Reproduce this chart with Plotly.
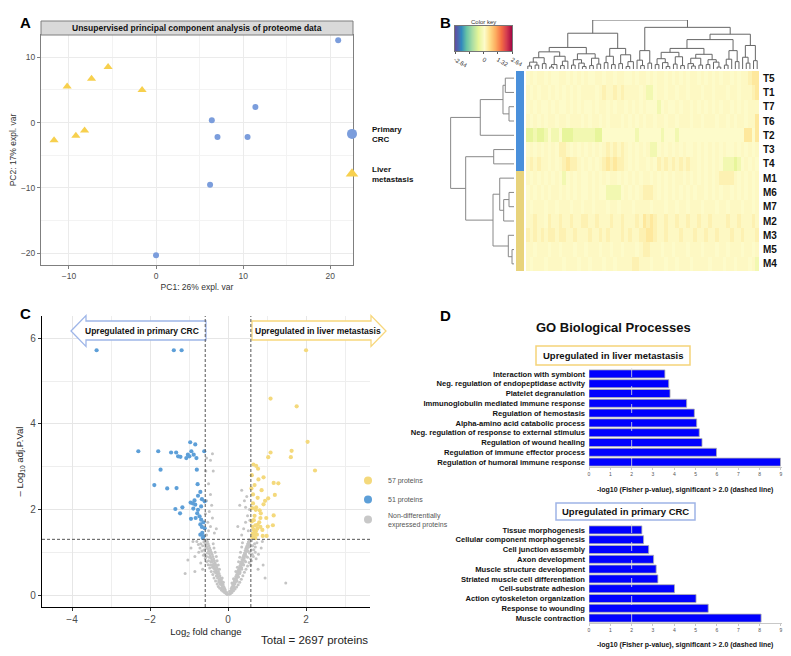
import plotly.graph_objects as go

W, H = 791, 656
def px(x): return x / W
def py(y): return 1 - y / H

FONT = "Liberation Sans, Arial, sans-serif"
NARROW = "Liberation Sans Narrow, Liberation Sans, Arial Narrow, sans-serif"

# ---------------- Panel A: PCA ----------------
pca_crc_pc1 = [20.9, 6.4, 7.05, 10.5, 11.4, 6.2, 0.0]
pca_crc_pc2 = [12.6, 0.36, -2.2, -2.2, 2.4, -9.5, -20.3]
pca_met_pc1 = [-10.2, -7.4, -5.5, -1.6, -11.7, -9.2, -8.2]
pca_met_pc2 = [5.5, 6.7, 8.5, 5.0, -2.7, -2.0, -1.2]
COL_CRC = "#7b9ddc"
COL_MET = "#f7d04e"

# ---------------- Panel B: heatmap ----------------
sample_labels = ["T5", "T1", "T7", "T6", "T2", "T3", "T4",
                 "M1", "M6", "M7", "M2", "M3", "M5", "M4"]
heat_rows = [
    "3434434334434343433443443443343443434434343434434343434434344566",
    "4343443434343434444345445454444342234434434434443443444344344456",
    "3434334343343434334344343443434343332343343443434343434434343444",
    "4343434434434443434434344434343434434434434443443444344343443446",
    "1121123223111222222113333333332333333233323333333333333333336636",
    "3434343435543434343434545454343434223434343433434343434334343434",
    "4545443434565543434345656554343443435454545454434343432221234343",
    "4343434343234343343434344343434344343434344343434343455554343434",
    "3434343443434343343433222234343455543434343434344343434434343434",
    "4344434434443443443444344344434444344434434434443444344344434434",
    "4454435445445445544544454454445465654454454454454454444544544454",
    "5454545545544544454454544454544556654454445444544544544454454445",
    "4434443443444344344434434434443455444344344434443444344344434434",
    "4344434444344434434443443444455444344434434443444434443443444342",
]
heat_levels = {'1': -0.5, '2': -0.26, '3': 0.0, '4': 0.06, '5': 0.2, '6': 0.38, '7': 0.6}
key_min, key_max = -2.64, 2.64
key_ticks = [-2.64, -1.32, 0, 1.32, 2.64]
key_ticktext = ["-2.64", "", "0", "1.32", "2.64"]
spectral_r = ["#5e4fa2", "#3288bd", "#66c2a5", "#abdda4", "#e6f598", "#fdfbca",
              "#fee08b", "#fdae61", "#f46d43", "#d53e4f", "#9e0142"]

# row dendrogram: [height, left, right], leaves = row index
row_tree = [9.9,
            [5.27, [1.72, [1.36, 0, 1], [0.78, 2, 3]], 4],
            [7.55, [3.17, 5, 6],
             [3.28, [2.23, 7, [1.61, [0.78, 8, 9], 10]], [0.89, 11, [0.31, 12, 13]]]]]
# column dendrogram sub-clusters ('.' = next column leaf)
colA1 = [3.5, [2.3, [1.4, [0.6, '.', '.'], [0.8, '.', '.']], [1.1, '.', '.']],
        [2.6, [0.9, [0.4, '.', '.'], '.'], [1.6, [0.7, '.', '.'], '.']]]
colA2 = [3.1, [1.9, [0.8, '.', '.'], [1.2, '.', [0.5, '.', '.']]],
        [2.2, [0.7, '.', '.'], [1.0, '.', '.']]]
colA3 = [4.2, [2.6, [1.3, '.', '.'], [0.9, '.', '.']],
        [2.9, [1.1, '.', '.'], [1.5, [0.5, '.', '.'], '.']]]
colB1 = [3.75, [1.8, '.', [0.7, '.', '.']], [1.2, '.', '.']]
colB2 = [4.2, [3.4, [2.1, [0.9, '.', '.'], [1.3, '.', [0.5, '.', '.']]],
               [2.5, [1.0, '.', '.'], [0.7, '.', '.']]],
        [3.0, [2.2, [1.1, '.', [0.6, '.', '.']], [0.8, '.', '.']],
              [1.9, [0.9, '.', '.'], [1.4, '.', [0.4, '.', '.']]]]]
colB3 = [3.75, [2.0, [0.8, '.', '.'], '.'], [1.5, '.', '.']]
colB4 = [4.8, [2.4, '.', [1.2, '.', '.']], [1.7, '.', '.']]
col_tree = [10.0, [7.3, [4.4, colA1, colA2], colA3],
            [8.5, colB1, [7.1, [6.0, colB2, colB3], colB4]]]

# ---------------- Panel C: volcano ----------------
up_crc = [(-3.37, 5.72), (-1.39, 5.72), (-1.19, 5.72), (-2.30, 3.36), (-1.79, 3.36),
          (-1.46, 3.33), (-1.33, 3.33), (-1.28, 3.24), (-1.22, 3.23), (-1.07, 3.20),
          (-0.97, 3.57), (-0.84, 3.52), (-0.94, 3.36), (-0.99, 3.24), (-0.88, 3.28),
          (-0.81, 3.20), (-0.61, 3.36), (-1.73, 2.93), (-0.80, 2.93), (-1.89, 2.57),
          (-1.56, 2.49), (-1.32, 2.50), (-0.78, 2.59), (-0.71, 2.41), (-0.77, 2.32),
          (-0.96, 2.16), (-0.86, 2.21), (-0.84, 2.11), (-0.67, 2.24), (-0.60, 2.19),
          (-1.17, 2.05), (-1.35, 2.01), (-1.23, 1.91), (-0.89, 2.02), (-0.77, 1.99),
          (-0.79, 1.91), (-0.83, 1.80), (-0.95, 1.78), (-0.69, 1.76), (-0.63, 1.70),
          (-0.71, 1.65), (-0.67, 1.59), (-0.66, 1.45), (-0.71, 1.41), (-0.63, 1.37),
          (-0.60, 1.56), (-0.65, 1.33), (-0.73, 1.84), (-0.90, 2.14), (-1.03, 3.28),
          (-0.69, 2.07)]
up_met = [(2.00, 5.72), (1.09, 4.59), (1.76, 4.41), (2.04, 3.58), (1.63, 3.37),
          (1.61, 3.22), (1.09, 3.33), (1.03, 3.22), (2.23, 2.91), (0.65, 3.05),
          (0.72, 3.02), (0.77, 2.95), (0.61, 2.80), (0.91, 2.75), (0.78, 2.70),
          (1.17, 2.62), (1.29, 2.61), (0.68, 2.57), (0.60, 2.49), (0.76, 2.27),
          (1.03, 2.26), (1.20, 2.34), (0.64, 2.14), (0.91, 2.12), (0.62, 2.03),
          (0.71, 1.99), (0.81, 1.98), (0.84, 1.91), (0.68, 1.85), (0.98, 1.80),
          (1.17, 1.86), (0.83, 1.80), (0.61, 1.72), (0.70, 1.63), (0.76, 1.64),
          (0.63, 1.59), (0.83, 1.59), (1.15, 1.63), (1.02, 1.60), (0.66, 1.52),
          (0.71, 1.49), (0.63, 1.43), (0.74, 1.41), (0.89, 1.38), (0.99, 1.38),
          (0.67, 1.39), (0.62, 1.35), (0.68, 1.45), (0.75, 1.55), (0.80, 1.70),
          (0.66, 1.75), (0.88, 1.52), (0.72, 2.05), (0.95, 2.20), (0.64, 2.35),
          (0.86, 2.45), (0.70, 1.33)]
not_de = [(-0.02, 0.01), (-0.04, 0.03), (-0.06, 0.05), (-0.03, 0.06), (-0.08, 0.08),
          (-0.10, 0.10), (-0.07, 0.12), (-0.12, 0.14), (-0.09, 0.16), (-0.14, 0.18),
          (-0.11, 0.20), (-0.16, 0.22), (-0.13, 0.25), (-0.18, 0.27), (-0.15, 0.30),
          (-0.20, 0.32), (-0.17, 0.35), (-0.22, 0.37), (-0.19, 0.40), (-0.25, 0.42),
          (-0.21, 0.45), (-0.27, 0.47), (-0.23, 0.50), (-0.29, 0.52), (-0.25, 0.55),
          (-0.31, 0.57), (-0.27, 0.60), (-0.33, 0.62), (-0.29, 0.65), (-0.35, 0.67),
          (-0.31, 0.70), (-0.37, 0.72), (-0.33, 0.75), (-0.40, 0.77), (-0.35, 0.80),
          (-0.42, 0.82), (-0.37, 0.85), (-0.44, 0.87), (-0.39, 0.90), (-0.46, 0.92),
          (-0.41, 0.95), (-0.48, 0.97), (-0.43, 1.00), (-0.50, 1.02), (-0.45, 1.05),
          (-0.52, 1.08), (-0.47, 1.10), (-0.54, 1.12), (-0.49, 1.15), (-0.56, 1.18),
          (-0.51, 1.20), (-0.58, 1.22), (-0.53, 1.25), (-0.60, 1.27), (-0.55, 1.29),
          (-0.30, 0.45), (-0.35, 0.55), (-0.40, 0.65), (-0.45, 0.70), (-0.50, 0.80),
          (-0.55, 0.90), (-0.60, 0.95), (-0.62, 1.05), (-0.65, 1.15), (-0.70, 1.20),
          (-0.22, 0.60), (-0.25, 0.70), (-0.28, 0.80), (-0.30, 0.90), (-0.33, 1.00),
          (-0.36, 1.10), (-0.38, 1.20), (-0.20, 0.25), (-0.24, 0.33), (-0.12, 0.30),
          (-0.15, 0.40), (-0.85, 0.90), (-1.03, 0.82), (-0.95, 1.10), (-0.75, 1.00),
          (-0.70, 0.75), (-0.80, 1.25), (-0.90, 1.25), (-0.65, 0.60), (-0.55, 1.40),
          (-0.50, 1.50), (-0.45, 1.60), (-0.52, 1.70), (-0.40, 1.80), (-0.48, 1.95),
          (-0.42, 2.10), (-0.55, 2.20), (-0.45, 2.35), (-0.50, 2.60), (-0.38, 2.90),
          (-0.55, 3.20), (-0.40, 3.30), (-0.58, 1.90), (-0.35, 1.45), (-0.30, 1.55),
          (-0.57, 2.90), (-0.45, 3.15),
          (-0.05, 0.04), (-0.09, 0.06), (-0.13, 0.09), (-0.17, 0.12), (-0.21, 0.16),
          (-0.25, 0.20), (-0.28, 0.26), (-0.32, 0.33), (-0.36, 0.40), (-0.39, 0.48),
          (-0.43, 0.55), (-0.47, 0.63), (-0.51, 0.71), (-0.55, 0.78), (-0.58, 0.86),
          (-0.63, 0.93), (-0.67, 1.03), (-0.72, 1.10), (-0.76, 1.18), (-0.62, 1.24),
          (-0.57, 1.10), (-0.53, 0.98), (-0.48, 0.88), (-0.44, 0.77), (-0.40, 0.70),
          (-0.36, 0.62), (-0.32, 0.52), (-0.27, 0.40), (-0.23, 0.30), (-0.16, 0.16),
          (-0.85, 0.55), (-1.10, 0.50),
          (0.03, 0.02), (0.05, 0.05), (0.07, 0.07), (0.04, 0.09), (0.09, 0.11),
          (0.11, 0.13), (0.08, 0.15), (0.13, 0.17), (0.10, 0.19), (0.15, 0.21),
          (0.12, 0.24), (0.17, 0.26), (0.14, 0.28), (0.19, 0.31), (0.16, 0.33),
          (0.21, 0.36), (0.18, 0.38), (0.23, 0.41), (0.20, 0.43), (0.25, 0.46),
          (0.22, 0.48), (0.27, 0.51), (0.24, 0.53), (0.29, 0.56), (0.26, 0.58),
          (0.31, 0.61), (0.28, 0.63), (0.33, 0.66), (0.30, 0.68), (0.35, 0.71),
          (0.32, 0.73), (0.37, 0.76), (0.34, 0.78), (0.39, 0.81), (0.36, 0.83),
          (0.41, 0.86), (0.38, 0.88), (0.43, 0.91), (0.40, 0.93), (0.45, 0.96),
          (0.42, 0.98), (0.47, 1.01), (0.44, 1.04), (0.49, 1.06), (0.46, 1.09),
          (0.51, 1.11), (0.48, 1.14), (0.53, 1.17), (0.50, 1.19), (0.55, 1.22),
          (0.52, 1.24), (0.57, 1.27), (0.54, 1.29), (0.30, 0.50), (0.35, 0.60),
          (0.40, 0.70), (0.45, 0.78), (0.50, 0.88), (0.55, 0.98), (0.60, 1.05),
          (0.63, 1.15), (0.68, 1.20), (0.20, 0.55), (0.24, 0.65), (0.27, 0.78),
          (0.30, 0.88), (0.32, 1.00), (0.35, 1.12), (0.37, 1.22), (0.18, 0.28),
          (0.22, 0.34), (0.10, 0.28), (0.14, 0.38), (0.60, 0.80), (0.58, 0.70),
          (1.48, 0.28), (0.85, 1.10), (0.78, 0.95), (0.72, 0.85), (0.88, 1.25),
          (0.70, 1.00), (0.65, 0.90), (0.35, 1.40), (0.40, 1.55), (0.45, 1.70),
          (0.50, 1.85), (0.55, 2.00), (0.42, 2.20), (0.48, 2.30), (0.35, 2.45),
          (0.30, 2.10), (0.52, 1.50), (0.56, 1.75), (0.25, 1.60), (0.45, 2.05),
          (0.06, 0.03), (0.10, 0.06), (0.14, 0.10), (0.18, 0.14), (0.22, 0.19),
          (0.26, 0.24), (0.30, 0.30), (0.34, 0.37), (0.38, 0.45), (0.42, 0.53),
          (0.46, 0.60), (0.50, 0.68), (0.54, 0.76), (0.58, 0.85), (0.62, 0.95),
          (0.66, 1.06), (0.70, 1.12), (0.74, 1.22), (0.60, 1.27), (0.56, 1.13),
          (0.52, 1.02), (0.47, 0.90), (0.43, 0.80), (0.39, 0.72), (0.35, 0.64),
          (0.31, 0.54), (0.27, 0.42), (0.23, 0.32), (0.16, 0.18), (0.77, 0.60),
          (0.90, 0.70), (0.95, 0.40)]
fc_threshold = 0.585      # log2(1.5)
p_threshold = 1.301       # -log10(0.05)
n_up_met, n_up_crc, total_proteins = 57, 51, 2697
COL_V_BLUE = "#5d9fd8"
COL_V_YEL = "#f4d97c"
COL_V_GREY = "#c4c4c4"

# ---------------- Panel D: GO bars ----------------
liver_terms = ["Interaction with symbiont", "Neg. regulation of endopeptidase activity",
               "Platelet degranulation", "Immunoglobulin mediated immune response",
               "Regulation of hemostasis", "Alpha-amino acid catabolic process",
               "Neg. regulation of response to external stimulus", "Regulation of wound healing",
               "Regulation of immune effector process", "Regulation of humoral immune response"]
liver_vals = [3.56, 3.74, 3.80, 4.58, 4.94, 5.05, 5.17, 5.30, 5.98, 8.98]
crc_terms = ["Tissue morphogenesis", "Cellular component morphogenesis", "Cell junction assembly",
             "Axon development", "Muscle structure development",
             "Striated muscle cell differentiation", "Cell-substrate adhesion",
             "Action cytoskeleton organization", "Response to wounding", "Muscle contraction"]
crc_vals = [2.48, 2.56, 2.80, 3.03, 3.15, 3.23, 4.01, 5.02, 5.59, 8.07]
go_sig = 2.0


def dendro_segments(tree):
    pos_list, h_list = [], []
    counter = [0]

    def rec(n):
        if n == '.':
            i = counter[0]
            counter[0] += 1
            return i, 0.0
        if isinstance(n, int):
            return n, 0.0
        h, a, b = n
        pa, ha = rec(a)
        pb, hb = rec(b)
        pos_list.extend([pa, pa, pb, pb, None])
        h_list.extend([ha, h, h, hb, None])
        return (pa + pb) / 2, h

    rec(tree)
    return pos_list, h_list


fig = go.Figure()
CSCALE = [[i / (len(spectral_r) - 1), c] for i, c in enumerate(spectral_r)]

# ---- A ----
fig.add_trace(go.Scatter(x=pca_crc_pc1, y=pca_crc_pc2, mode="markers", showlegend=False,
                         marker=dict(symbol="circle", size=6, color=COL_CRC), xaxis="x", yaxis="y"))
fig.add_trace(go.Scatter(x=pca_met_pc1, y=pca_met_pc2, mode="markers", showlegend=False,
                         marker=dict(symbol="triangle-up", size=8, color=COL_MET), xaxis="x", yaxis="y"))
fig.add_trace(go.Scatter(x=[None], y=[None], mode="markers", name="Primary<br>CRC",
                         legend="legend", legendgroup="a1",
                         marker=dict(symbol="circle", size=10, color=COL_CRC), xaxis="x", yaxis="y"))
fig.add_trace(go.Scatter(x=[None], y=[None], mode="markers", name="Liver<br>metastasis",
                         legend="legend", legendgroup="a2",
                         marker=dict(symbol="triangle-up", size=11, color=COL_MET), xaxis="x", yaxis="y"))

# ---- B ----
z = [[heat_levels[c] for c in row] for row in heat_rows]
ncol = len(heat_rows[0])
fig.add_trace(go.Heatmap(
    z=z, x=list(range(ncol)), y=list(range(len(sample_labels))),
    colorscale=CSCALE, zmin=key_min, zmax=key_max, showscale=False,
    xaxis="x2", yaxis="y2", hoverinfo="skip"))
# colour key swatch: one cell per palette anchor, smoothly interpolated
key_anchor_vals = [key_min + (key_max - key_min) * i / (len(spectral_r) - 1)
                   for i in range(len(spectral_r))]
fig.add_trace(go.Heatmap(z=[key_anchor_vals, key_anchor_vals], x=key_anchor_vals, y=[0, 1],
                         colorscale=CSCALE, zmin=key_min, zmax=key_max, zsmooth="best",
                         showscale=False, xaxis="x9", yaxis="y9", hoverinfo="skip"))
group_z = [[0] if s.startswith("T") else [1] for s in sample_labels]
fig.add_trace(go.Heatmap(z=group_z, x=[0], y=list(range(len(sample_labels))),
                         colorscale=[[0, "#4a90db"], [1, "#e8d37c"]], showscale=False,
                         xaxis="x3", yaxis="y3", hoverinfo="skip"))
rpos, rh = dendro_segments(row_tree)
fig.add_trace(go.Scatter(x=rh, y=rpos, mode="lines", line=dict(color="#888", width=1),
                         showlegend=False, xaxis="x4", yaxis="y4", hoverinfo="skip"))
cpos, ch = dendro_segments(col_tree)
fig.add_trace(go.Scatter(x=cpos, y=ch, mode="lines", line=dict(color="#666", width=1),
                         showlegend=False, xaxis="x5", yaxis="y5", hoverinfo="skip"))

# ---- C ----
fig.add_trace(go.Scatter(x=[p[0] for p in not_de], y=[p[1] for p in not_de], mode="markers",
                         marker=dict(size=3, color=COL_V_GREY), showlegend=False,
                         xaxis="x6", yaxis="y6"))
fig.add_trace(go.Scatter(x=[p[0] for p in up_crc], y=[p[1] for p in up_crc], mode="markers",
                         marker=dict(size=4.2, color=COL_V_BLUE), showlegend=False,
                         xaxis="x6", yaxis="y6"))
fig.add_trace(go.Scatter(x=[p[0] for p in up_met], y=[p[1] for p in up_met], mode="markers",
                         marker=dict(size=4.2, color=COL_V_YEL), showlegend=False,
                         xaxis="x6", yaxis="y6"))
for name, col, rank in [(f"{n_up_met} proteins", COL_V_YEL, 1),
                        (f"{n_up_crc} proteins", COL_V_BLUE, 2),
                        ("Non-differentially<br>expressed proteins", "#c8c8c8", 3)]:
    fig.add_trace(go.Scatter(x=[None], y=[None], mode="markers", name=name, legend="legend2",
                             legendrank=rank, marker=dict(size=8, color=col),
                             xaxis="x6", yaxis="y6"))

# ---- D ----
fig.add_trace(go.Bar(x=liver_vals, y=liver_terms, orientation="h", showlegend=False,
                     marker=dict(color="#0000ff", line=dict(color="#b0b0b0", width=0.8)),
                     xaxis="x7", yaxis="y7"))
fig.add_trace(go.Bar(x=crc_vals, y=crc_terms, orientation="h", showlegend=False,
                     marker=dict(color="#0000ff", line=dict(color="#b0b0b0", width=0.8)),
                     xaxis="x8", yaxis="y8"))

hidden = dict(visible=False, showgrid=False, zeroline=False, automargin=False)
pca_ax = dict(showgrid=True, gridcolor="#ebebeb", zeroline=False, showline=True, mirror=True,
              linecolor="#7f7f7f", linewidth=1, ticks="outside", ticklen=3, tickcolor="#7f7f7f",
              tickfont=dict(family=FONT, size=8.5, color="#4d4d4d"), dtick=10, tick0=0,
              automargin=False,
              minor=dict(dtick=5, tick0=0, showgrid=True, gridcolor="#f3f3f3"))
volc_ax = dict(showgrid=True, gridcolor="#e6e6e6", zeroline=False, showline=True, mirror=False,
               linecolor="#000", linewidth=1.3, ticks="outside", ticklen=3, tickcolor="#333",
               tickfont=dict(family=FONT, size=10, color="#4d4d4d"), dtick=2, tick0=0,
               automargin=False,
               minor=dict(dtick=1, tick0=0, showgrid=True, gridcolor="#eeeeee"))
bar_x = dict(range=[0, 9.05], dtick=1, showgrid=False, zeroline=False, showline=True,
             linecolor="#c8c8c8", ticks="outside", ticklen=2, tickcolor="#c8c8c8",
             automargin=False, tickfont=dict(family=FONT, size=5, color="#555"))
bar_y = dict(autorange="reversed", showgrid=False, zeroline=False, ticks="", automargin=False,
             ticklabelstandoff=3, tickfont=dict(family=FONT, size=7.6, color="#111", weight="bold"))

fig.update_layout(
    template="none",
    width=W, height=H, margin=dict(l=0, r=0, t=0, b=0, autoexpand=False),
    paper_bgcolor="white", plot_bgcolor="white", bargap=0.18,
    font=dict(family=FONT),
    xaxis=dict(domain=[px(33), px(345)], range=[-13.2, 22.6], anchor="y",
               title=dict(text="PC1: 26% expl. var", standoff=3,
                          font=dict(family=FONT, size=8.5, color="#333")), **pca_ax),
    yaxis=dict(domain=[py(257), py(27)], range=[-21.8, 13.4], anchor="x",
               title=dict(text="PC2: 17% expl. var", standoff=3,
                          font=dict(family=FONT, size=8.5, color="#333")), **pca_ax),
    xaxis2=dict(domain=[px(518), px(751)], range=[-0.5, ncol - 0.5], anchor="y2", **hidden),
    yaxis2=dict(domain=[py(263), py(63)], range=[len(sample_labels) - 0.5, -0.5], anchor="x2",
                side="right", tickvals=list(range(len(sample_labels))), ticktext=sample_labels,
                showgrid=False, zeroline=False, ticks="", ticklabelstandoff=3, automargin=False,
                tickfont=dict(family=FONT, size=10, color="#111", weight="bold")),
    xaxis3=dict(domain=[px(508), px(516)], range=[-0.5, 0.5], anchor="y3", **hidden),
    yaxis3=dict(domain=[py(263), py(63)], range=[len(sample_labels) - 0.5, -0.5], anchor="x3", **hidden),
    xaxis4=dict(domain=[px(442), px(506)], range=[10.0, 0], anchor="y4", **hidden),
    yaxis4=dict(domain=[py(263), py(63)], range=[len(sample_labels) - 0.5, -0.5], anchor="x4", **hidden),
    xaxis5=dict(domain=[px(518), px(751)], range=[-0.5, ncol - 0.5], anchor="y5", **hidden),
    yaxis5=dict(domain=[py(61), py(12)], range=[0, 10.0], anchor="x5", **hidden),
    xaxis6=dict(domain=[px(34), px(362)], range=[-4.77, 3.64], anchor="y6",
                title=dict(text="Log<sub>2</sub> fold change", standoff=4,
                           font=dict(family=FONT, size=9.5, color="#222")), **volc_ax),
    yaxis6=dict(domain=[py(599), py(308)], range=[-0.28, 6.52], anchor="x6",
                title=dict(text="– Log<sub>10</sub> adj.P.Val", standoff=4,
                           font=dict(family=FONT, size=9.5, color="#222")), **volc_ax),
    xaxis7=dict(domain=[px(581), px(774)], anchor="y7", **bar_x),
    yaxis7=dict(domain=[py(459), py(361)], anchor="x7", **bar_y),
    xaxis8=dict(domain=[px(581), px(774)], anchor="y8", **bar_x),
    yaxis8=dict(domain=[py(615), py(517)], anchor="x8", **bar_y),
    xaxis9=dict(domain=[px(447), px(504)], range=[key_min, key_max], anchor="y9",
                tickvals=key_ticks, ticktext=key_ticktext, ticks="outside", ticklen=2,
                tickcolor="#555", showline=True, mirror=True, linecolor="#777", linewidth=1,
                showgrid=False, zeroline=False, automargin=False,
                tickfont=dict(family=FONT, size=6, color="#333")),
    yaxis9=dict(domain=[py(43), py(18)], range=[-0.5, 1.5], anchor="x9", showline=True,
                mirror=True, linecolor="#777", linewidth=1, showticklabels=False, ticks="",
                showgrid=False, zeroline=False, automargin=False),
    legend=dict(x=px(324), y=py(109), xanchor="left", yanchor="top", itemwidth=30,
                tracegroupgap=16, bgcolor="rgba(0,0,0,0)", valign="middle",
                font=dict(family=FONT, size=8, color="#111", weight="bold")),
    legend2=dict(x=px(340), y=py(458), xanchor="left", yanchor="top", itemwidth=30,
                 bgcolor="rgba(0,0,0,0)", tracegroupgap=0,
                 font=dict(family=FONT, size=7, color="#555")),
)

shapes = []
# A title strip
shapes.append(dict(type="rect", xref="paper", yref="paper", x0=px(33), x1=px(345),
                   y0=py(27), y1=py(13), fillcolor="#d9d9d9", line=dict(color="#7f7f7f", width=1)))
# C arrows
def path(points):
    return "M " + " L ".join(f"{px(x):.5f},{py(y):.5f}" for x, y in points) + " Z"
shapes.append(dict(type="path", xref="paper", yref="paper",
                   path=path([(63, 323), (78, 307.5), (78, 313), (198, 313), (198, 332),
                              (78, 332), (78, 338.5)]),
                   fillcolor="white", line=dict(color="#9fb6e8", width=1.3)))
shapes.append(dict(type="path", xref="paper", yref="paper",
                   path=path([(244, 313), (363, 313), (363, 307.5), (378, 323), (363, 338.5),
                              (363, 332), (244, 332)]),
                   fillcolor="white", line=dict(color="#f7d77c", width=1.3)))
# C thresholds
for xv in (-fc_threshold, fc_threshold):
    shapes.append(dict(type="line", xref="x6", yref="y6 domain", x0=xv, x1=xv, y0=0, y1=1,
                       line=dict(color="#555", width=1, dash="3px,2px")))
shapes.append(dict(type="line", xref="x6 domain", yref="y6", x0=0, x1=1, y0=p_threshold,
                   y1=p_threshold, line=dict(color="#555", width=1, dash="3px,2px")))
# D boxes
shapes.append(dict(type="rect", xref="paper", yref="paper", x0=px(528), x1=px(682),
                   y0=py(357), y1=py(338), fillcolor="white", line=dict(color="#f5d37a", width=1.5)))
shapes.append(dict(type="rect", xref="paper", yref="paper", x0=px(548), x1=px(687),
                   y0=py(512), y1=py(495), fillcolor="white", line=dict(color="#9fb4e6", width=1.5)))
for xa, ya in (("x7", "y7"), ("x8", "y8")):
    shapes.append(dict(type="line", xref=xa, yref=ya + " domain", x0=go_sig, x1=go_sig,
                       y0=0, y1=1.04, layer="above",
                       line=dict(color="rgba(220,220,220,0.8)", width=1, dash="dash")))
fig.update_layout(shapes=shapes)

ann = []
def text(x, y, s, size, bold=False, color="#111", xanchor="center", family=FONT):
    ann.append(dict(x=px(x), y=py(y), xref="paper", yref="paper", text=s, showarrow=False,
                    xanchor=xanchor, yanchor="middle",
                    font=dict(family=family, size=size, color=color,
                              weight="bold" if bold else "normal")))

text(17, 15, "A", 15, True, "#000")
text(437, 14, "B", 15, True, "#000")
text(17, 305, "C", 15, True, "#000")
text(437, 307, "D", 15, True, "#000")
text(475.5, 14, "Color key", 6, False, "#333")
text(189, 20, "Unsupervised principal component analysis of proteome data", 8.5, True, "#111")
text(134, 323, "Upregulated in primary CRC", 8.5, True, "#111", family=NARROW)
text(310, 323, "Upregulated in liver metastasis", 8.5, True, "#111", family=NARROW)
text(362, 632, f"Total = {total_proteins} proteins", 11.5, False, "#222", xanchor="right")
text(605, 319, "GO Biological Processes", 13, True, "#111")
text(605, 347.5, "Upregulated in liver metastasis", 9.5, True, "#111")
text(617, 503.5, "Upregulated in primary CRC", 9.5, True, "#111")
text(677, 482, "-log10 (Fisher p-value), significant &gt; 2.0 (dashed line)", 7, True, "#111")
text(677, 637, "-log10 (Fisher p-value), significant &gt; 2.0 (dashed line)", 7, True, "#111")
fig.update_layout(annotations=ann)

fig.write_html("out.html")
